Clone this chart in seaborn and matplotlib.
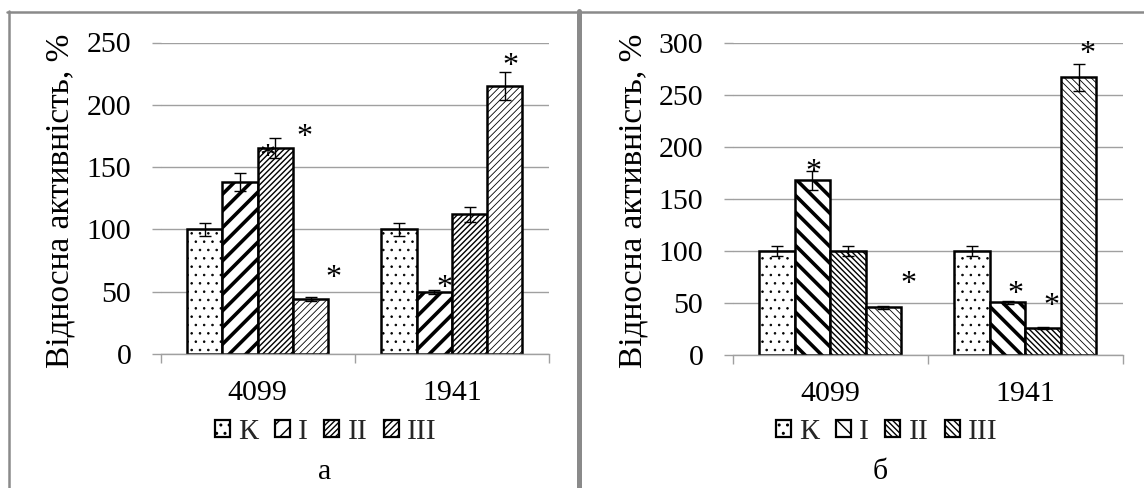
import numpy as np
import pandas as pd
import matplotlib
matplotlib.use("Agg")
import matplotlib.pyplot as plt
from matplotlib.patches import Patch
from matplotlib.lines import Line2D
import seaborn as sns

# ---- data -------------------------------------------------------------
strains = ["4099", "1941"]
groups = ["К", "I", "II", "III"]

# panel а
values_a = {"К": [100, 100], "I": [138, 50], "II": [165, 112], "III": [44, 215]}
errors_a = {"К": [5, 5], "I": [7, 1.5], "II": [8, 6], "III": [1.5, 11]}

# panel б
values_b = {"К": [100, 100], "I": [168, 51], "II": [100, 26], "III": [46, 267]}
errors_b = {"К": [5, 5], "I": [9, 1.5], "II": [5, 1], "III": [1.5, 13]}

ylabel = "Відносна активність, %"
captions = ["а", "б"]

# significance marks: (strain index, horizontal shift, height)
stars_a = [(0, 0.05, 164), (0, 0.24, 180), (0, 0.39, 67), (1, -0.04, 59), (1, 0.30, 237)]
stars_b = [(0, -0.085, 183), (0, 0.40, 75), (1, -0.05, 66), (1, 0.135, 54), (1, 0.32, 296)]

# ---- style ------------------------------------------------------------
sns.set_theme(style="white")
plt.rcParams["font.family"] = ["Liberation Serif", "DejaVu Serif"]
plt.rcParams["hatch.color"] = "black"

FS = 21.5
FS_LABEL = 24
FS_STAR = 23
GRID = "#a0a0a0"
BORDER = "#8a8a8a"

W, H = 1144, 488
fig = plt.figure(figsize=(W / 100, H / 100), dpi=100)
fig.patch.set_facecolor("white")


def px_box(l, t, r, b):
    return [l / W, 1 - b / H, (r - l) / W, (b - t) / H]


hatches_a = {"К": "..", "I": "//", "II": "//////", "III": "/////"}
hatches_b = {"К": "..", "I": "\\\\", "II": "\\\\\\\\\\\\", "III": "\\\\\\\\\\"}
hatch_lw = {"К": 0.6, "I": 2.6, "II": 1.0, "III": 0.6}


def style_patch(p, grp, hatches, lw=1.8):
    p.set_facecolor("white")
    p.set_edgecolor("black")
    p.set_linewidth(lw)
    p.set_hatch(hatches[grp])
    if hasattr(p, "set_hatch_linewidth"):
        p.set_hatch_linewidth(hatch_lw[grp])


def panel(box, values, errors, ymax, hatches, stars, ylab_x, cap, cap_x, legend_x):
    ax = fig.add_axes(box)
    df = pd.DataFrame(
        [(s, g, values[g][i]) for g in groups for i, s in enumerate(strains)],
        columns=["strain", "group", "value"],
    )
    sns.barplot(data=df, x="strain", y="value", hue="group", order=strains,
                hue_order=groups, errorbar=None, width=0.727, legend=False,
                ax=ax, zorder=3)
    for grp, cont in zip(groups, ax.containers):
        xs, hs = [], []
        for p in cont.patches:
            style_patch(p, grp, hatches)
            xs.append(p.get_x() + p.get_width() / 2)
            hs.append(p.get_height())
        ax.errorbar(xs, hs, yerr=errors[grp], fmt="none", ecolor="black",
                    elinewidth=1.0, capsize=4.6, capthick=1.0, zorder=4)

    ax.set_xlim(-0.5, 1.5)
    ax.set_ylim(0, ymax)
    ax.set_yticks(np.arange(0, ymax + 1, 50))
    ax.yaxis.grid(True, color=GRID, lw=1.0)
    ax.set_axisbelow(True)
    for s in ["left", "right", "top"]:
        ax.spines[s].set_visible(False)
    ax.spines["bottom"].set_color(GRID)
    ax.spines["bottom"].set_linewidth(1.0)
    ax.spines["bottom"].set_zorder(5)
    ax.set_xlabel("")
    ax.set_ylabel("")
    ax.tick_params(axis="y", which="major", direction="out", length=6.5,
                   width=1.0, color=GRID, labelsize=FS, labelcolor="black",
                   pad=14.5, left=True)
    ax.set_xticks([-0.5, 0.5, 1.5], minor=True)
    ax.tick_params(axis="x", which="minor", direction="out", length=6.5,
                   width=1.0, color=GRID, bottom=True)
    ax.tick_params(axis="x", which="major", length=0, labelsize=FS,
                   labelcolor="black", pad=18.5)

    for ci, dx, y in stars:
        ax.annotate("*", xy=(ci + dx, y), xycoords="data", xytext=(0, -11),
                    textcoords="offset points", ha="center", va="baseline",
                    fontsize=FS_STAR, color="black", zorder=6)

    fig.text(ylab_x / W, 1 - 201 / H, ylabel, rotation=90, ha="center",
             va="center", fontsize=FS_LABEL, color="black")

    handles = []
    for g in groups:
        h = Patch(facecolor="white", edgecolor="black", linewidth=1.6,
                  hatch=hatches[g], label=g)
        if hasattr(h, "set_hatch_linewidth"):
            h.set_hatch_linewidth(min(hatch_lw[g], 1.8))
        handles.append(h)
    fig.legend(handles=handles, loc="center", bbox_to_anchor=(legend_x / W, 1 - 432 / H),
               ncol=4, frameon=False, fontsize=FS, handlelength=0.5,
               handleheight=0.5, handletextpad=0.28, columnspacing=0.55,
               borderpad=0, borderaxespad=0)
    fig.text(cap_x / W, 1 - 472 / H, cap, ha="center", va="center",
             fontsize=FS, color="black")
    return ax


panel(px_box(160.5, 42.5, 549, 354), values_a, errors_a, 250, hatches_a,
      stars_a, 60, captions[0], 325, 326)
panel(px_box(732.5, 42.7, 1123, 355.3), values_b, errors_b, 300, hatches_b,
      stars_b, 633, captions[1], 880, 887)

# panel frames
fig.add_artist(Line2D([7 / W, 1], [1 - 11.5 / H] * 2, transform=fig.transFigure,
                      color=BORDER, lw=1.8))
fig.add_artist(Line2D([8.5 / W] * 2, [0, 1 - 10.5 / H], transform=fig.transFigure,
                      color=BORDER, lw=1.8))
fig.add_artist(Line2D([579 / W] * 2, [0, 1 - 10.5 / H], transform=fig.transFigure,
                      color=BORDER, lw=3.6))

fig.savefig("out.png", dpi=100, facecolor="white")
